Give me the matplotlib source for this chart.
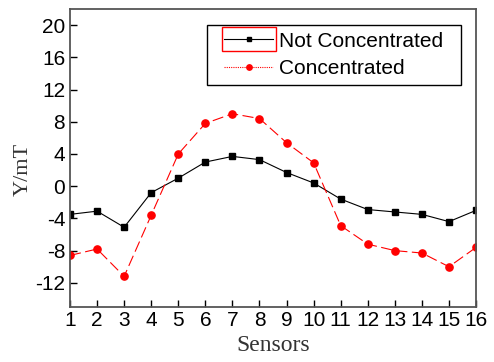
import matplotlib
matplotlib.use('Agg')
import matplotlib.pyplot as plt
from matplotlib.patches import Rectangle

# Sensor readings
sensors = list(range(1, 17))
not_concentrated = [-3.5, -3.1, -5.1, -0.8, 1.0, 3.0, 3.7, 3.3, 1.7, 0.4, -1.6, -2.9, -3.2, -3.5, -4.4, -3.0]
concentrated = [-8.6, -7.8, -11.2, -3.6, 4.0, 7.8, 9.0, 8.4, 5.4, 2.9, -4.9, -7.2, -8.0, -8.3, -10.0, -7.6]
y_ticks = [-12, -8, -4, 0, 4, 8, 12, 16, 20]

plt.rcParams['font.family'] = ['Liberation Sans', 'DejaVu Sans']
plt.rcParams['axes.unicode_minus'] = False

fig = plt.figure(figsize=(4.94, 3.62), dpi=100)
ax = fig.add_axes([0.1417, 0.152, 0.822, 0.823])

ax.plot(sensors, not_concentrated, color='black', linewidth=0.8, marker='s',
        markersize=4.8, label='Not Concentrated')
ax.plot(sensors, concentrated, color='red', linewidth=0.8, linestyle=(0, (10, 4)),
        marker='o', markersize=5.2, label='Concentrated')

ax.set_xlim(1, 16)
ax.set_ylim(-15, 22)
ax.set_xticks(sensors)
ax.set_yticks(y_ticks)
ax.tick_params(direction='in', length=5, width=1, labelsize=15, colors='black')
ax.tick_params(axis='x', pad=3)
for s in ax.spines.values():
    s.set_linewidth(1.3)
    s.set_color('#555555')

ax.set_xlabel('Sensors', family='Liberation Serif', fontsize=17, color='#333333')
ax.set_ylabel('Y/mT', family='Liberation Serif', fontsize=16, color='#333333')
ax.xaxis.set_label_coords(0.5, -0.095)
ax.yaxis.set_label_coords(-0.092, 0.46)

leg = ax.legend(loc='upper left', bbox_to_anchor=(0.3645, 0.945), fontsize=15,
                frameon=False, markerscale=0.75, borderaxespad=0,
                handlelength=2.35, borderpad=0.3, labelspacing=0.4, handletextpad=0.3)
leg.legend_handles[1].set_linestyle((0, (1, 1)))

# legend frame (wider horizontal padding) and red selection box around first entry
fig.canvas.draw()
renderer = fig.canvas.get_renderer()
inv = fig.transFigure.inverted()
lb = leg.get_window_extent(renderer)
(x0, y0), (x1, y1) = inv.transform([(lb.x0 - 11, lb.y0 - 1), (lb.x1 + 11, lb.y1)])
fig.patches.append(Rectangle((x0, y0), x1 - x0, y1 - y0, transform=fig.transFigure,
                             fill=False, edgecolor='black', linewidth=1.0))
hb = leg.legend_handles[0].get_window_extent(renderer)
cy = (hb.y0 + hb.y1) / 2
(x0, y0), (x1, y1) = inv.transform([(hb.x0, cy - 12), (hb.x1, cy + 12)])
fig.patches.append(Rectangle((x0, y0), x1 - x0, y1 - y0, transform=fig.transFigure,
                             fill=False, edgecolor='red', linewidth=1.0))

fig.savefig('out.png', dpi=100)
plt.close(fig)
